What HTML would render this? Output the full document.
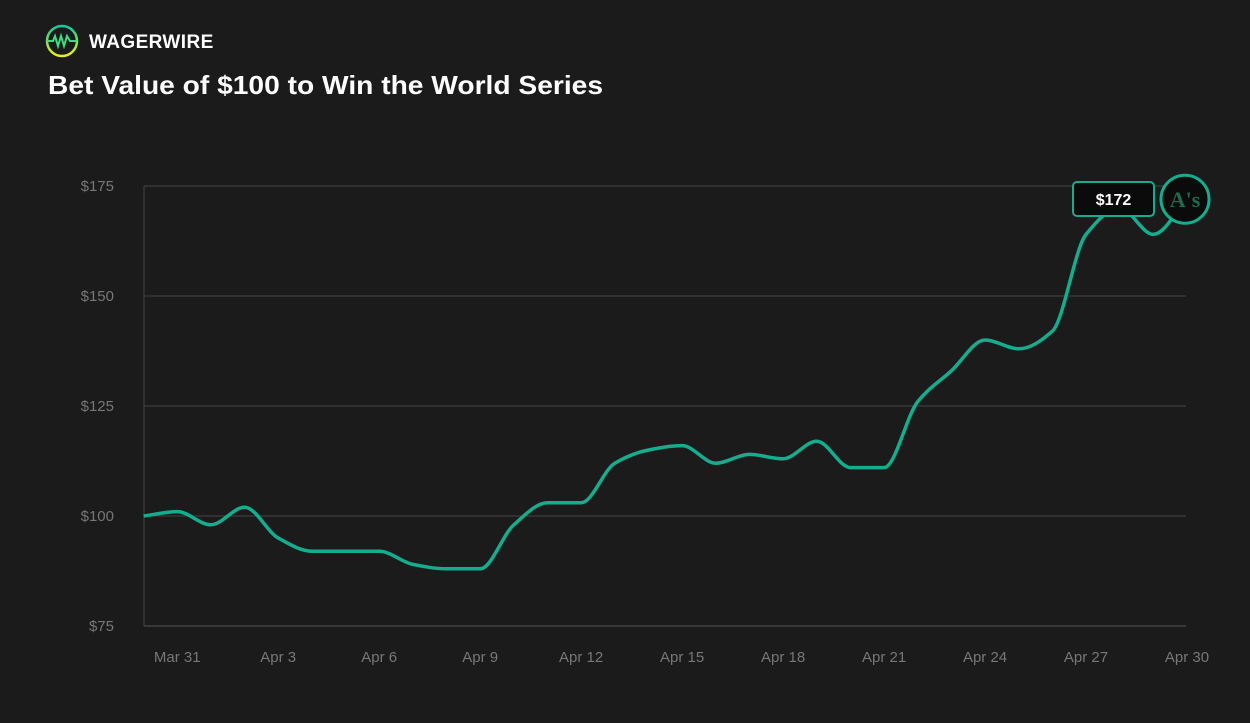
<!DOCTYPE html>
<html><head><meta charset="utf-8"><style>
body{margin:0;background:#1b1b1b;width:1250px;height:723px;overflow:hidden;font-family:"Liberation Sans",sans-serif}
svg{display:block}
</style></head><body>
<svg width="1250" height="723">
<g>
<defs><linearGradient id="lg" x1="0" y1="0" x2="0" y2="1"><stop offset="0" stop-color="#16c79a"/><stop offset="1" stop-color="#e8f020"/></linearGradient></defs>
<circle cx="62" cy="41" r="15" fill="none" stroke="url(#lg)" stroke-width="2.5"/>
<polyline points="47,41 53,41 55,36 58,46 61,36 64,46 67,36 70,41 77,41" fill="none" stroke="#3ddc84" stroke-width="2"/>
</g>
<text x="89" y="48" fill="#fff" font-size="19" font-weight="bold" letter-spacing="0.4">WAGERWIRE</text>
<text x="48" y="94" fill="#fff" font-size="26" font-weight="bold" textLength="555" lengthAdjust="spacingAndGlyphs">Bet Value of $100 to Win the World Series</text>
<g id="grid"></g><g id="xt"></g>
<path id="line" fill="none" stroke="#14ae8f" stroke-width="3.5" stroke-linejoin="round"/>
<g>
<rect x="1073" y="182" width="81" height="34" rx="4" fill="#0b0b0b" stroke="#14ae8f" stroke-width="2"/>
<text id="vl" x="1113.5" y="205" fill="#fff" font-size="16" font-weight="bold" text-anchor="middle">$172</text>
</g>
<g id="logo">
<circle id="lc" r="24" fill="#0b0b0b" stroke="#14ae8f" stroke-width="3"/>
<text id="lt" fill="#1f6b4f" font-size="22" font-weight="bold" font-family="Liberation Serif,serif" text-anchor="middle">A's</text>
</g>
</svg>
<script>
const dates=["Mar 30","Mar 31","Apr 1","Apr 2","Apr 3","Apr 4","Apr 5","Apr 6","Apr 7","Apr 8","Apr 9","Apr 10","Apr 11","Apr 12","Apr 13","Apr 14","Apr 15","Apr 16","Apr 17","Apr 18","Apr 19","Apr 20","Apr 21","Apr 22","Apr 23","Apr 24","Apr 25","Apr 26","Apr 27","Apr 28","Apr 29","Apr 30"];
const values=[100,101,98,102,95,92,92,92,89,88,88,98,103,103,112,115,116,112,114,113,117,111,111,126,133,140,138,142,164,170,164,172];
const yTicks=[75,100,125,150,175];
const xTickIdx=[1,4,7,10,13,16,19,22,25,28,31];
const X=i=>143.6+i*(1187-143.6)/31;
const Y=v=>626-(v-75)*4.4;
const ns="http://www.w3.org/2000/svg";
const grid=document.getElementById('grid');
yTicks.forEach(t=>{
 const l=document.createElementNS(ns,'line');
 l.setAttribute('x1',144);l.setAttribute('x2',1186);l.setAttribute('y1',Y(t));l.setAttribute('y2',Y(t));
 l.setAttribute('stroke',t===75?'#555':'#444');l.setAttribute('stroke-width',1);
 
 
 grid.appendChild(l);
 const tx=document.createElementNS(ns,'text');
 tx.setAttribute('x',114);tx.setAttribute('y',Y(t)+5);tx.setAttribute('fill','#777');tx.setAttribute('font-size',15);tx.setAttribute('text-anchor','end');
 tx.textContent='$'+t;
 
 
 grid.appendChild(tx);
});
const ax=document.createElementNS(ns,'line');
ax.setAttribute('x1',144);ax.setAttribute('x2',144);ax.setAttribute('y1',186);ax.setAttribute('y2',626);ax.setAttribute('stroke','#444');


grid.appendChild(ax);
const xt=document.getElementById('xt');
xTickIdx.forEach(i=>{
 const tx=document.createElementNS(ns,'text');
 tx.setAttribute('x',X(i));tx.setAttribute('y',662);tx.setAttribute('fill','#777');tx.setAttribute('font-size',15);tx.setAttribute('text-anchor','middle');
 tx.textContent=dates[i];
 
 
 xt.appendChild(tx);
});
// monotone cubic interpolation
const pts=values.map((v,i)=>[X(i),Y(v)]);
const n=pts.length,dx=pts[1][0]-pts[0][0];
const sl=[];for(let i=0;i<n-1;i++)sl.push((pts[i+1][1]-pts[i][1])/dx);
const m=[];
for(let i=0;i<n;i++){
 if(i===0)m.push(sl[0]);else if(i===n-1)m.push(sl[n-2]);
 else{const a=sl[i-1],b=sl[i];m.push(a*b<=0?0:2/(1/a+1/b));}
}
let d='M'+pts[0][0]+','+pts[0][1];
for(let i=0;i<n-1;i++){
 const h=dx/3;
 d+=` C${pts[i][0]+h},${pts[i][1]+m[i]*h} ${pts[i+1][0]-h},${pts[i+1][1]-m[i+1]*h} ${pts[i+1][0]},${pts[i+1][1]}`;
}
document.getElementById('line').setAttribute('d',d);
const last=pts[n-1];
const lc=document.getElementById('lc');lc.setAttribute('cx',last[0]-2);lc.setAttribute('cy',last[1]);
const lt=document.getElementById('lt');lt.setAttribute('x',last[0]-2);lt.setAttribute('y',last[1]+8);
document.getElementById('vl').textContent='$'+values[n-1];
</script>
</body></html>
